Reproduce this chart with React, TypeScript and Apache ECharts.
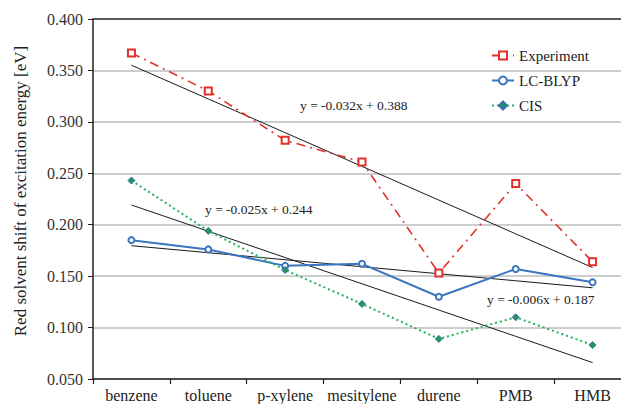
import React, { useEffect, useRef } from 'react';
import * as echarts from 'echarts';

const categories = ['benzene', 'toluene', 'p-xylene', 'mesitylene', 'durene', 'PMB', 'HMB'];
const experiment = [0.367, 0.330, 0.282, 0.261, 0.153, 0.240, 0.164];
const lcBlyp = [0.185, 0.176, 0.160, 0.162, 0.130, 0.157, 0.144];
const cis = [0.243, 0.194, 0.156, 0.123, 0.089, 0.110, 0.083];
const yTicks = [0.05, 0.1, 0.15, 0.2, 0.25, 0.3, 0.35, 0.4];
const equations = ['y = -0.032x + 0.388', 'y = -0.025x + 0.244', 'y = -0.006x + 0.187'];

const SERIF = '"Liberation Serif", "Times New Roman", serif';

// least-squares linear trend (x = 1..n), like the spreadsheet trendline
function trend(ys: number[]): number[] {
  const n = ys.length;
  const xs = ys.map((_, i) => i + 1);
  const mx = xs.reduce((a, b) => a + b, 0) / n;
  const my = ys.reduce((a, b) => a + b, 0) / n;
  let sxy = 0;
  let sxx = 0;
  for (let i = 0; i < n; i++) {
    sxy += (xs[i] - mx) * (ys[i] - my);
    sxx += (xs[i] - mx) * (xs[i] - mx);
  }
  const b = sxy / sxx;
  const a = my - b * mx;
  return xs.map((x) => a + b * x);
}

export default function App() {
  const ref = useRef<HTMLDivElement>(null);
  useEffect(() => {
    const chart = echarts.init(ref.current!, null, { renderer: 'svg' });
    const trendStyle = { color: '#1a1a1a', width: 1 };
    chart.setOption({
      animation: false,
      backgroundColor: '#ffffff',
      grid: { left: 93, right: 0, top: 19, bottom: 25 },
      legend: {
        orient: 'vertical',
        left: 486,
        top: 43,
        itemWidth: 22,
        itemHeight: 10,
        itemGap: 10,
        data: ['Experiment', 'LC-BLYP', 'CIS'],
        textStyle: { fontFamily: SERIF, fontSize: 15, color: '#222' },
      },
      xAxis: {
        type: 'category',
        data: categories,
        boundaryGap: true,
        axisLine: { show: true, lineStyle: { color: '#222', width: 1.5 } },
        axisTick: { show: true, length: 5, lineStyle: { color: '#222', width: 1.2 } },
        axisLabel: { interval: 0, fontFamily: SERIF, fontSize: 16, color: '#222', margin: 8 },
        splitLine: { show: false },
      },
      yAxis: {
        type: 'value',
        min: yTicks[0],
        max: yTicks[yTicks.length - 1],
        interval: 0.05,
        axisLine: { show: true, lineStyle: { color: '#222', width: 1.5 } },
        axisTick: { show: true, length: 5, lineStyle: { color: '#222', width: 1 } },
        axisLabel: {
          fontFamily: SERIF,
          fontSize: 16,
          color: '#333',
          margin: 10,
          formatter: (v: number) => v.toFixed(3),
        },
        splitLine: {
          show: true,
          lineStyle: {
            color: ['#bdbdbd', '#bdbdbd', '#bdbdbd', '#bdbdbd', '#bdbdbd', '#bdbdbd', '#bdbdbd', '#222'],
            width: 1.5,
          },
        },
      },
      graphic: [
        {
          type: 'text',
          x: 20,
          y: 191,
          rotation: Math.PI / 2,
          style: {
            text: 'Red solvent shift of excitation energy [eV]',
            font: '17px ' + SERIF,
            fill: '#222',
            textAlign: 'center',
            textVerticalAlign: 'middle',
          },
        },
        {
          type: 'text',
          x: 300,
          y: 105,
          style: { text: equations[0], font: '13.5px ' + SERIF, fill: '#222', textVerticalAlign: 'middle' },
        },
        {
          type: 'text',
          x: 205,
          y: 209,
          style: { text: equations[1], font: '13.5px ' + SERIF, fill: '#222', textVerticalAlign: 'middle' },
        },
        {
          type: 'text',
          x: 487,
          y: 299,
          style: { text: equations[2], font: '13.5px ' + SERIF, fill: '#222', textVerticalAlign: 'middle' },
        },
      ],
      series: [
        {
          name: 'trend-exp',
          type: 'line',
          data: trend(experiment),
          symbol: 'none',
          silent: true,
          lineStyle: trendStyle,
          z: 1,
        },
        {
          name: 'trend-lc',
          type: 'line',
          data: trend(lcBlyp),
          symbol: 'none',
          silent: true,
          lineStyle: trendStyle,
          z: 1,
        },
        {
          name: 'trend-cis',
          type: 'line',
          data: trend(cis),
          symbol: 'none',
          silent: true,
          lineStyle: trendStyle,
          z: 1,
        },
        {
          name: 'Experiment',
          type: 'line',
          data: experiment,
          color: '#e2302a',
          symbol: 'emptyRect',
          symbolSize: 7,
          lineStyle: { color: '#e2302a', width: 1.6, type: [9, 5, 2, 5] },
          itemStyle: { color: '#e2302a', borderWidth: 1.2 },
          z: 3,
        },
        {
          name: 'LC-BLYP',
          type: 'line',
          data: lcBlyp,
          color: '#3a75bf',
          symbol: 'emptyCircle',
          symbolSize: 6,
          lineStyle: { color: '#3a75bf', width: 2 },
          itemStyle: { color: '#3a75bf', borderWidth: 1.2 },
          z: 3,
        },
        {
          name: 'CIS',
          type: 'line',
          data: cis,
          color: '#22a95a',
          symbol: 'diamond',
          symbolSize: 7,
          lineStyle: { color: '#22b35a', width: 2, type: [2, 3] },
          itemStyle: { color: '#1f9a55', borderColor: '#3a6fb5', borderWidth: 1 },
          z: 3,
        },
      ],
    });
    return () => chart.dispose();
  }, []);
  return (
    <div style={{ width: 621, height: 404, position: 'absolute', left: 0, top: 0, overflow: 'hidden' }}>
      <div ref={ref} style={{ width: 631, height: 404 }} />
    </div>
  );
}
